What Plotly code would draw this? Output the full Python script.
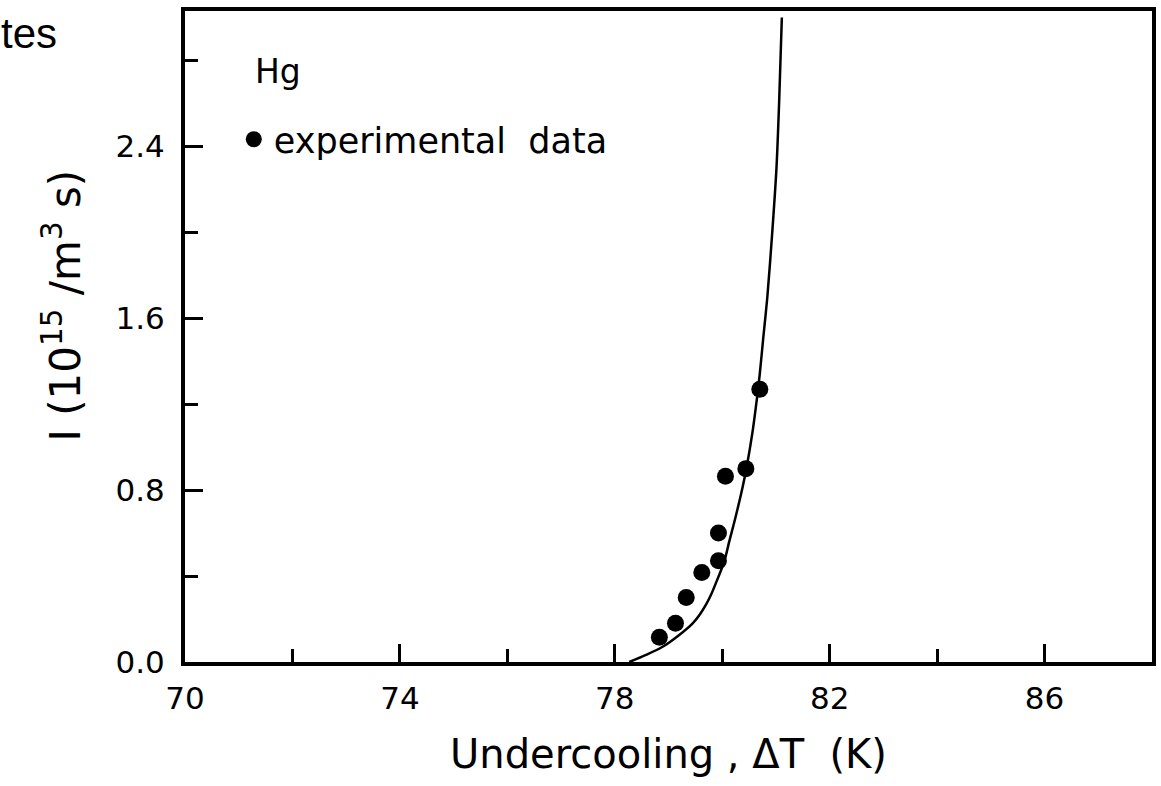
import plotly.graph_objects as go

# Experimental data (undercooling K, nucleation rate 1e15 /m^3 s)
exp_dT = [78.83, 79.13, 79.33, 79.62, 79.93, 79.93, 80.06, 80.44, 80.70]
exp_I = [0.115, 0.18, 0.30, 0.417, 0.471, 0.60, 0.865, 0.90, 1.27]

# Theory curve
fit_dT = [78.27, 78.58, 78.89, 79.20, 79.45, 79.58, 79.70, 79.80, 79.88, 80.04, 80.13, 80.25, 80.38,
          80.45, 80.56, 80.65, 80.70, 80.76, 80.84, 80.93, 81.01, 81.06, 81.11]
fit_I = [0.0, 0.033, 0.071, 0.126, 0.180, 0.220, 0.268, 0.318, 0.366, 0.47, 0.56, 0.676, 0.815,
         0.901, 1.064, 1.234, 1.343, 1.498, 1.70, 1.995, 2.30, 2.61, 3.00]

x_range = [70, 88]
y_range = [0, 3.03]

FONT = "DejaVu Sans"

fig = go.Figure()
fig.add_trace(go.Scatter(
    x=fit_dT, y=fit_I, mode="lines",
    line=dict(color="black", width=2.5, shape="spline", smoothing=0.8),
    showlegend=False, hoverinfo="skip",
))
fig.add_trace(go.Scatter(
    x=exp_dT, y=exp_I, mode="markers",
    marker=dict(color="black", size=17),
    name="experimental  data",
))

axis_common = dict(
    showline=True, linecolor="black", linewidth=4, mirror=True,
    showgrid=False, zeroline=False,
    ticks="inside", tickcolor="black", tickwidth=3, ticklen=18,
    tickfont=dict(family=FONT, size=31, color="black"),
)

fig.update_xaxes(
    range=x_range, tick0=70, dtick=4,
    minor=dict(dtick=2, ticks="inside", ticklen=13, tickwidth=3, tickcolor="black", showgrid=False),
    ticklabelstandoff=6,
    title=dict(text="Undercooling , ΔT  (K)", font=dict(family=FONT, size=40, color="black"), standoff=26),
    **axis_common,
)
fig.update_yaxes(
    range=y_range, tick0=0, dtick=0.8, tickformat=".1f",
    minor=dict(dtick=0.4, ticks="inside", ticklen=13, tickwidth=3, tickcolor="black", showgrid=False),
    ticklabelstandoff=10,
    **axis_common,
)

# y-axis title (placed as rotated text to match the original's position)
fig.add_annotation(
    text="I (10<sup>15</sup> /m<sup>3</sup> s)", textangle=-90,
    xref="paper", yref="paper", x=(62 - 185) / 971, y=1 - (306 - 11) / 651,
    xanchor="center", yanchor="middle", showarrow=False,
    font=dict(family=FONT, size=42, color="black"),
)
fig.add_annotation(
    text="Hg", xref="paper", yref="paper", x=(253 - 185) / 971, y=1 - (72 - 11) / 651,
    xanchor="left", yanchor="middle", showarrow=False,
    font=dict(family=FONT, size=33, color="black"),
)
fig.add_annotation(
    text="tes", xref="paper", yref="paper", x=(58 - 185) / 971, y=1 + (11 - 8) / 651,
    xanchor="right", yanchor="top", showarrow=False,
    font=dict(family="Liberation Sans", size=42, color="black"),
)

fig.update_layout(
    width=1161, height=786, autosize=False,
    margin=dict(l=185, r=5, t=11, b=124),
    plot_bgcolor="white", paper_bgcolor="white",
    showlegend=True,
    legend=dict(
        x=(234 - 185) / 971, y=1 - (110 - 11) / 651, xanchor="left", yanchor="top",
        font=dict(family=FONT, size=35, color="black"),
        bgcolor="rgba(0,0,0,0)", borderwidth=0,
    ),
)

fig.write_html("out.html")
